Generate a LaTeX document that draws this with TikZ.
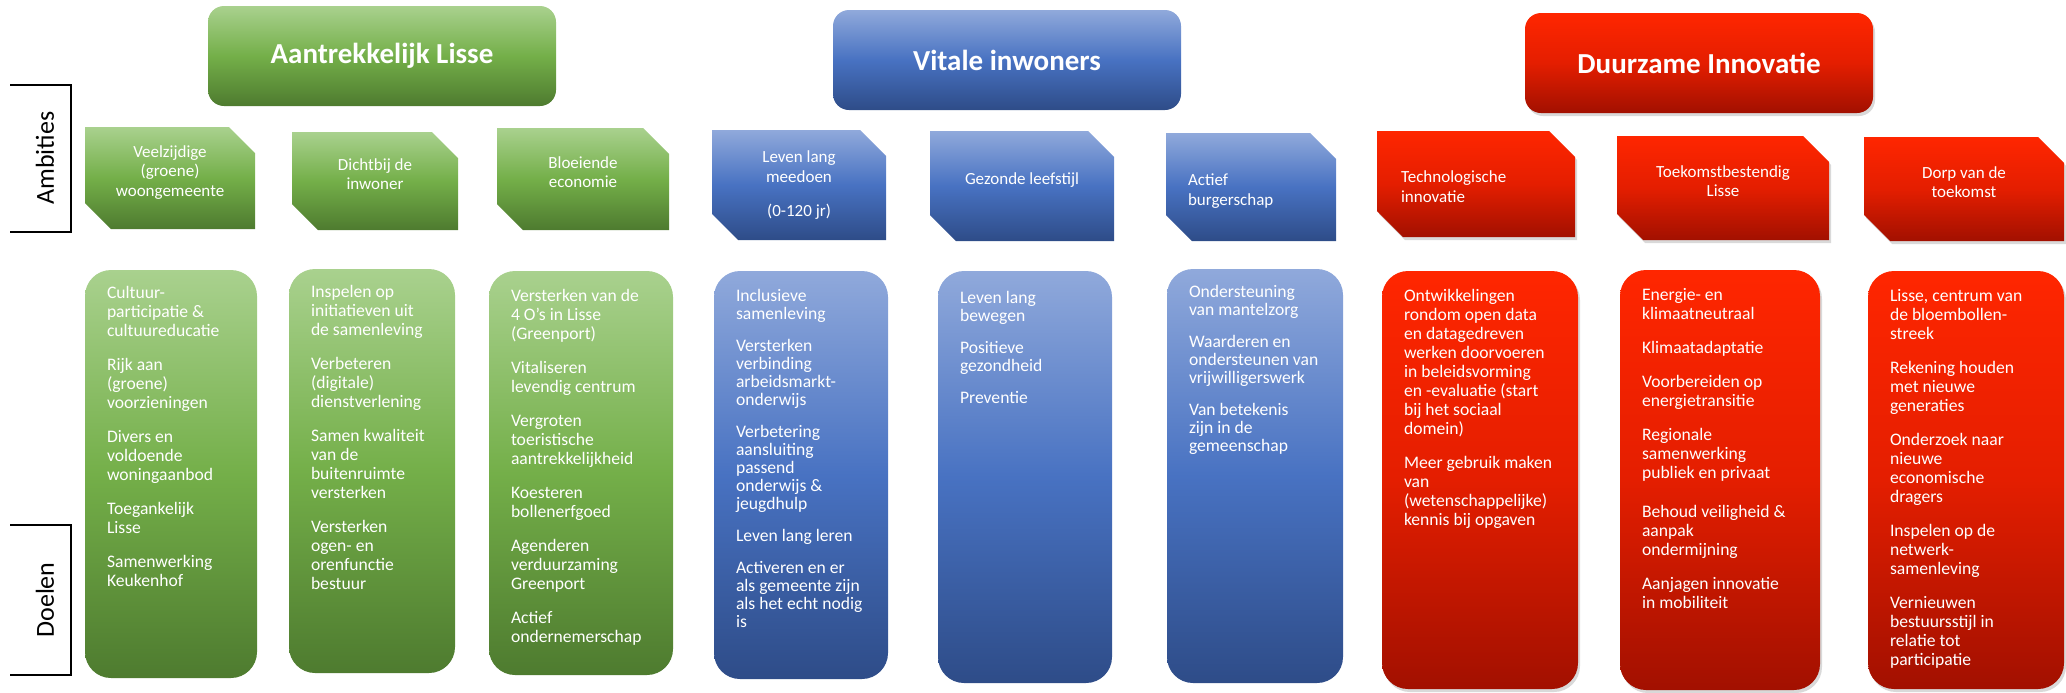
\documentclass[tikz,border=0pt]{standalone}
\usepackage{fontspec}
\setmainfont{Carlito}
\usepackage{tikz}
\usetikzlibrary{positioning,shapes.misc,shadows}
\definecolor{groenl}{HTML}{A9D18E}
\definecolor{groenm}{HTML}{74AF49}
\definecolor{groend}{HTML}{4E7B2F}
\definecolor{blauwl}{HTML}{90A9DB}
\definecolor{blauwm}{HTML}{4872C2}
\definecolor{blauwd}{HTML}{2E4C88}
\definecolor{roodl}{HTML}{FF2600}
\definecolor{roodm}{HTML}{E41E00}
\definecolor{roodd}{HTML}{A21000}
\tikzstyle{groen}=[top color=groenl, bottom color=groend, middle color=groenm]
\tikzstyle{blauw}=[top color=blauwl, bottom color=blauwd, middle color=blauwm]
\tikzstyle{rood}=[top color=roodl, bottom color=roodd, middle color=roodm,
  drop shadow={opacity=.3, shadow xshift=1pt, shadow yshift=-1.5pt}]
\tikzstyle{kop}=[rounded corners=8pt, minimum width=174pt, minimum height=50pt,
  text=white, font=\fontsize{14.5}{17}\selectfont\bfseries]
\tikzstyle{ambitie}=[chamfered rectangle, chamfered rectangle corners={north east,south west},
  chamfered rectangle xsep=6.5pt, chamfered rectangle ysep=6.5pt, inner sep=0pt,
  text=white, align=center, font=\fontsize{8.5}{9.8}\selectfont]
\tikzstyle{hoog}=[text depth=7pt]
\tikzstyle{doel}=[rounded corners=13pt, inner sep=0pt]
\tikzstyle{doeltekst}=[inner sep=0pt, text=white, align=left, font=\fontsize{8.8}{9.5}\selectfont]
\tikzstyle{zij}=[rotate=90, font=\fontsize{13}{15}\selectfont]
\tikzstyle{haak}=[line width=.8pt]

\begin{document}
\begin{tikzpicture}[
        x=0.5pt,
        y=-0.5pt
        ]
        \useasboundingbox (0,0) rectangle (2066,692);
        % zijkant
        \node[zij] (amb) at (45,158) {Ambities};
        \node[zij] (doe) at (45,600) {Doelen};
        \draw[haak] (10,85) -| (71,232) -- (10,232);
        \draw[haak] (10,525) -| (71,675) -- (10,675);

        % koppen
        \node[kop, groen] (kop1) at (382,56) {Aantrekkelijk Lisse};
        \node[kop, blauw] (kop2) at (1007,60) {Vitale inwoners};
        \node[kop, rood] (kop3) at (1699,63) {Duurzame Innovatie};

        % ambities
        \node[ambitie, hoog, groen, minimum width=85pt, minimum height=51pt] (g1a) at (170,178) {Veelzijdige\\(groene)\\woongemeente};
        \node[ambitie, hoog, groen, minimum width=83pt, minimum height=49pt] (g2a) at (375,181) {Dichtbij de\\inwoner};
        \node[ambitie, hoog, groen, minimum width=86pt, minimum height=51pt] (g3a) at (583,179) {Bloeiende\\economie};
        \node[ambitie, blauw, minimum width=87pt, minimum height=55pt] (b1a) at (799,185) {Leven lang\\meedoen\\[7pt](0-120 jr)};
        \node[ambitie, hoog, blauw, minimum width=92pt, minimum height=55pt] (b2a) at (1022,186) {Gezonde leefstijl};
        \node[ambitie, hoog, blauw, minimum width=85pt, minimum height=54pt, text width=63pt, align=left] (b3a) at (1251,187) {Actief\\burgerschap};
        \node[ambitie, hoog, rood, minimum width=99pt, minimum height=53pt, text width=75pt, align=left] (r1a) at (1476,184) {Technologische\\innovatie};
        \node[ambitie, hoog, rood, minimum width=106pt, minimum height=52pt] (r2a) at (1723,188) {Toekomstbestendig\\Lisse};
        \node[ambitie, hoog, rood, minimum width=100pt, minimum height=52pt] (r3a) at (1964,189) {Dorp van de\\toekomst};

        % doelen
        \node[doel, groen, minimum width=86pt, minimum height=204pt] (g1d) at (171,474) {};
        \node[doel, groen, minimum width=83pt, minimum height=202pt] (g2d) at (372,471) {};
        \node[doel, groen, minimum width=92pt, minimum height=202pt] (g3d) at (581,473) {};
        \node[doel, blauw, minimum width=87pt, minimum height=204pt] (b1d) at (801,475) {};
        \node[doel, blauw, minimum width=87pt, minimum height=206pt] (b2d) at (1025,477) {};
        \node[doel, blauw, minimum width=88pt, minimum height=207pt] (b3d) at (1255,476) {};
        \node[doel, rood, minimum width=98pt, minimum height=209pt] (r1d) at (1480,480) {};
        \node[doel, rood, minimum width=100pt, minimum height=210pt] (r2d) at (1720,480) {};
        \node[doel, rood, minimum width=98pt, minimum height=209pt] (r3d) at (1966,480) {};

        \node[doeltekst] (g1t) [below right=8pt and 11pt of g1d.north west] {Cultuur-\\participatie \&\\cultuureducatie\\[7.5pt]Rijk aan\\(groene)\\voorzieningen\\[7.5pt]Divers en\\voldoende\\woningaanbod\\[7.5pt]Toegankelijk\\Lisse\\[7.5pt]Samenwerking\\Keukenhof};
        \node[doeltekst] (g2t) [below right=8pt and 11pt of g2d.north west] {Inspelen op\\initiatieven uit\\de samenleving\\[7.5pt]Verbeteren\\(digitale)\\dienstverlening\\[7.5pt]Samen kwaliteit\\van de\\buitenruimte\\versterken\\[7.5pt]Versterken\\ogen- en\\orenfunctie\\bestuur};
        \node[doeltekst] (g3t) [below right=9pt and 11pt of g3d.north west] {Versterken van de\\4 O’s in Lisse\\(Greenport)\\[7.5pt]Vitaliseren\\levendig centrum\\[7.5pt]Vergroten\\toeristische\\aantrekkelijkheid\\[7.5pt]Koesteren\\bollenerfgoed\\[7.5pt]Agenderen\\verduurzaming\\Greenport\\[7.5pt]Actief\\ondernemerschap};
        \node[doeltekst, font=\fontsize{8.8}{9}\selectfont] (b1t) [below right=9pt and 11pt of b1d.north west] {Inclusieve\\samenleving\\[7pt]Versterken\\verbinding\\arbeidsmarkt-\\onderwijs\\[7pt]Verbetering\\aansluiting\\passend\\onderwijs \&\\jeugdhulp\\[7pt]Leven lang leren\\[7pt]Activeren en er\\als gemeente zijn\\als het echt nodig\\is};
        \node[doeltekst, font=\fontsize{8.8}{9}\selectfont] (b2t) [below right=10pt and 11pt of b2d.north west] {Leven lang\\bewegen\\[7pt]Positieve\\gezondheid\\[7pt]Preventie};
        \node[doeltekst, font=\fontsize{8.8}{9}\selectfont] (b3t) [below right=8pt and 11pt of b3d.north west] {Ondersteuning\\van mantelzorg\\[7pt]Waarderen en\\ondersteunen van\\vrijwilligerswerk\\[7pt]Van betekenis\\zijn in de\\gemeenschap};
        \node[doeltekst] (r1t) [below right=9pt and 11pt of r1d.north west] {Ontwikkelingen\\rondom open data\\en datagedreven\\werken doorvoeren\\in beleidsvorming\\en -evaluatie (start\\bij het sociaal\\domein)\\[7.5pt]Meer gebruik maken\\van\\(wetenschappelijke)\\kennis bij opgaven};
        \node[doeltekst] (r2t) [below right=9pt and 11pt of r2d.north west] {Energie- en\\klimaatneutraal\\[7.5pt]Klimaatadaptatie\\[7.5pt]Voorbereiden op\\energietransitie\\[7.5pt]Regionale\\samenwerking\\publiek en privaat\\[10pt]Behoud veiligheid \&\\aanpak\\ondermijning\\[7.5pt]Aanjagen innovatie\\in mobiliteit};
        \node[doeltekst] (r3t) [below right=9pt and 11pt of r3d.north west] {Lisse, centrum van\\de bloembollen-\\streek\\[7.5pt]Rekening houden\\met nieuwe\\generaties\\[7.5pt]Onderzoek naar\\nieuwe\\economische\\dragers\\[7.5pt]Inspelen op de\\netwerk-\\samenleving\\[7.5pt]Vernieuwen\\bestuursstijl in\\relatie tot\\participatie};
    \end{tikzpicture}
\end{document}
